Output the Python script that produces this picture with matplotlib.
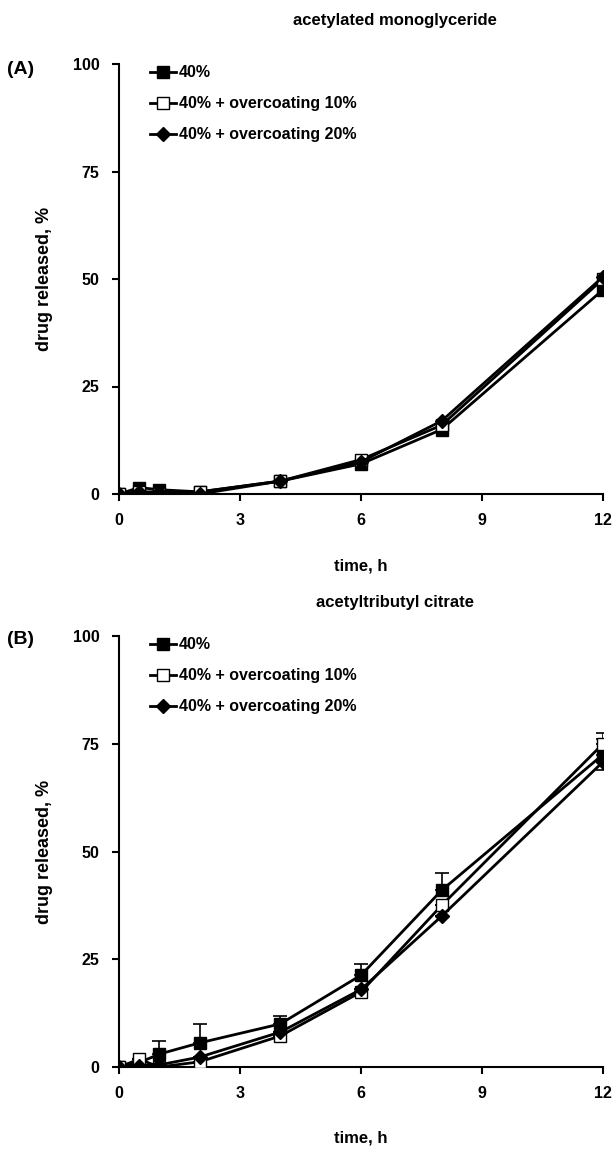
import matplotlib
matplotlib.use("Agg")
import matplotlib.pyplot as plt

plt.rcParams['font.family'] = ['Liberation Sans', 'DejaVu Sans']
plt.rcParams['font.weight'] = 'bold'

time_h = [0, 0.5, 1, 2, 4, 6, 8, 12]
labels = ["40%", "40% + overcoating 10%", "40% + overcoating 20%"]

# Panel A: acetylated monoglyceride
a_40 = [0, 1.5, 1.0, 0.5, 3.0, 7.0, 15.0, 47.5]
a_10 = [0, 0.5, 0.0, 0.5, 3.0, 8.0, 16.0, 50.0]
a_20 = [0, 0.5, 0.5, 0.0, 3.0, 7.5, 17.0, 50.5]

# Panel B: acetyltributyl citrate
b_40 = [0, 1.0, 3.0, 5.6, 10.0, 21.3, 41.0, 72.5]
b_40_err = [0, 0, 3.0, 4.4, 1.8, 2.5, 4.0, 3.5]
b_10 = [0, 1.8, 0.0, 1.2, 7.2, 17.4, 37.5, 75.0]
b_10_err = [0, 0, 0, 0, 0, 0, 0, 2.5]
b_20 = [0, 0.3, 0.5, 2.3, 8.1, 18.0, 35.0, 70.8]
b_20_err = [0, 0, 0, 0, 0, 0, 0, 1.8]

titles = ["acetylated monoglyceride", "acetyltributyl citrate"]
panel_tags = ["(A)", "(B)"]
xticks = [0, 3, 6, 9, 12]
yticks = [0, 25, 50, 75, 100]

W, H = 614, 1152
fig = plt.figure(figsize=(W / 100, H / 100), dpi=100)

def fx(px):
    return px / W

def fy(py):
    return 1 - py / H

axA = fig.add_axes([fx(119), fy(494), fx(603 - 119), (494 - 64) / H])
axB = fig.add_axes([fx(119), fy(1067), fx(603 - 119), (1067 - 636) / H])

styles = [dict(marker='s', mfc='black', mec='black', ms=9),
          dict(marker='s', mfc='white', mec='black', ms=9),
          dict(marker='D', mfc='black', mec='black', ms=7.5)]

def draw(ax, series, errs, title, tag, title_py, tag_py, xlabel_py):
    handles = []
    for s, e, st, lab in zip(series, errs, styles, labels):
        if e is not None:
            lower = [0] * len(e)
            upper = list(e)
            if st['marker'] == 'D':
                lower, upper = list(e), [0] * len(e)
            ax.errorbar(time_h, s, yerr=[lower, upper], fmt='none', ecolor='black',
                        elinewidth=1.2, capsize=5, capthick=1.2, zorder=2)
        h, = ax.plot(time_h, s, color='black', lw=2, label=lab, zorder=3, **st)
        handles.append(h)
    ax.set_xlim(0, 12)
    ax.set_ylim(0, 100)
    ax.set_xticks(xticks)
    ax.set_yticks(yticks)
    ax.spines['top'].set_visible(False)
    ax.spines['right'].set_visible(False)
    ax.spines['left'].set_linewidth(1.5)
    ax.spines['bottom'].set_linewidth(1.5)
    ax.tick_params(direction='out', width=1.5, length=5, labelsize=11.5, pad=9)
    for t in ax.get_xticklabels() + ax.get_yticklabels():
        t.set_fontweight('bold')
    ax.set_ylabel("drug released, %", fontsize=13, fontweight='bold', labelpad=14)
    fig.text(fx(361), fy(xlabel_py), "time, h", fontsize=12, fontweight='bold',
             ha='center', va='center')
    fig.text(fx(395), fy(title_py), title, fontsize=12, fontweight='bold',
             ha='center', va='center')
    ax.legend(handles=handles, loc='upper left', bbox_to_anchor=(0.035, 1.03),
              frameon=False, handlelength=1.6, handletextpad=0.2,
              labelspacing=1.0, prop=dict(weight='bold', size=11.5))
    fig.text(0.012, fy(tag_py), tag, fontsize=14, fontweight='bold', va='center')

draw(axA, [a_40, a_10, a_20], [None, None, None], titles[0], panel_tags[0], 20, 70, 566)
draw(axB, [b_40, b_10, b_20], [b_40_err, b_10_err, b_20_err], titles[1], panel_tags[1],
     603, 640, 1138)

fig.savefig("out.png", dpi=100)
